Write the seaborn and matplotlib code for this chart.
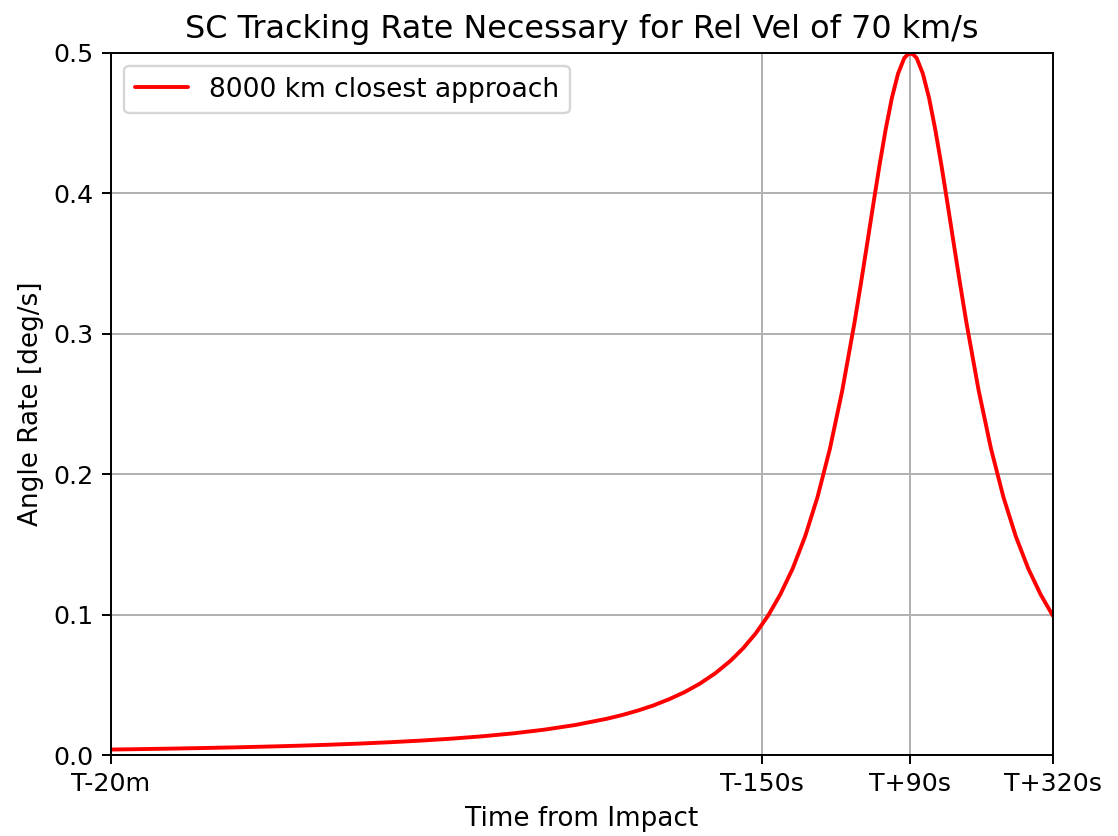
import matplotlib
matplotlib.use("Agg")
import matplotlib.pyplot as plt
import seaborn as sns
import pandas as pd

# Time relative to impact [s] and required tracking rate [deg/s]
time_s = [-1200, -1150, -1100, -1050, -1000, -950, -900, -850, -800, -750,
          -700, -650, -600, -550, -500, -450, -400, -375, -350, -325, -300,
          -275, -250, -225, -200, -180, -160, -140, -120, -100, -80, -60, -40,
          -20, 0, 10, 20, 30, 40, 50, 60, 70, 80, 85, 90, 95, 100, 110, 120,
          130, 140, 150, 160, 170, 180, 200, 220, 240, 260, 280, 300, 320]
rate_deg_s = [0.00389, 0.00421, 0.00457, 0.00498, 0.00544, 0.00597, 0.00658,
              0.00728, 0.00811, 0.00909, 0.01025, 0.01165, 0.01335, 0.01545,
              0.01808, 0.02143, 0.02580, 0.02848, 0.03161, 0.03525, 0.03961,
              0.04464, 0.05076, 0.05816, 0.06721, 0.07598, 0.08643, 0.09901,
              0.1143, 0.1328, 0.1556, 0.1836, 0.2180, 0.2596, 0.3086, 0.3356,
              0.3636, 0.3920, 0.4197, 0.4454, 0.4678, 0.4851, 0.4962, 0.4985,
              0.4995, 0.4985, 0.4962, 0.4851, 0.4678, 0.4454, 0.4197, 0.3920,
              0.3636, 0.3356, 0.3086, 0.2596, 0.2180, 0.1836, 0.1556, 0.1328,
              0.1143, 0.0990]

tick_pos = [-1200, -150, 90, 320]
tick_labels = ["T-20m", "T-150s", "T+90s", "T+320s"]
series_label = "8000 km closest approach"

sns.set_style("ticks", {
    "axes.grid": True,
    "grid.color": "#b0b0b0",
    "axes.edgecolor": "black",
    "text.color": "black",
    "axes.labelcolor": "black",
    "xtick.color": "black",
    "ytick.color": "black",
})
plt.rcParams["font.family"] = ["DejaVu Sans"]

df = pd.DataFrame({"t": time_s, "rate": rate_deg_s})

W, H = 1118, 836
fig = plt.figure(figsize=(W / 175, H / 175), dpi=175)
ax = fig.add_axes([111 / W, 1 - 755 / H, (1053 - 111) / W, (755 - 52.7) / H])

sns.lineplot(data=df, x="t", y="rate", color="red", linewidth=1.6,
             label=series_label, ax=ax)

ax.set_xlim(-1200, 320)
ax.set_ylim(0, 0.5)
ax.set_xticks(tick_pos)
ax.set_xticklabels(tick_labels)
ax.set_yticks([0.0, 0.1, 0.2, 0.3, 0.4, 0.5])
ax.tick_params(direction="out", length=3.5, width=0.8, labelsize=10.4)
for s in ax.spines.values():
    s.set_linewidth(0.8)
    s.set_visible(True)
ax.grid(True, color="#b0b0b0", linewidth=0.8)

ax.set_title("SC Tracking Rate Necessary for Rel Vel of 70 km/s", fontsize=13.1)
ax.set_xlabel("Time from Impact", fontsize=10.8)
ax.set_ylabel("Angle Rate [deg/s]", fontsize=10.8)
ax.legend(loc="upper left", fontsize=10.9, frameon=True, framealpha=0.8,
          edgecolor="#cccccc", fancybox=True)

fig.savefig("out.png", dpi=175)
